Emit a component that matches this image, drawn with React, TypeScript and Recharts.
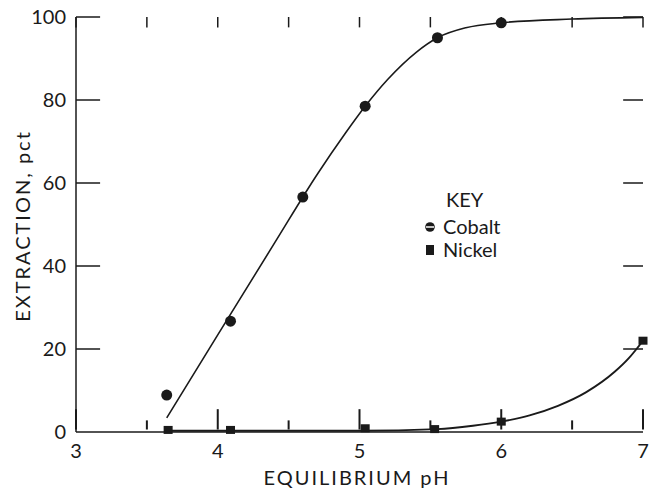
import React from 'react';
import {
  ComposedChart,
  Line,
  Scatter,
  XAxis,
  YAxis,
  Label,
  ReferenceLine,
} from 'recharts';

// measured points
const cobaltPh = [3.64, 4.09, 4.6, 5.04, 5.55, 6.0];
const cobaltPct = [8.9, 26.7, 56.6, 78.5, 95, 98.6];
const nickelPh = [3.65, 4.09, 5.04, 5.53, 6.0, 7.0];
const nickelPct = [0.5, 0.5, 0.9, 0.7, 2.5, 22];

// fitted curves
const cobaltCurvePh = [3.64, 4.0, 4.4, 4.7, 4.9, 5.04, 5.2, 5.4, 5.55, 5.75, 6.0, 6.5, 7.0];
const cobaltCurvePct = [3.4, 23.4, 45.5, 62, 72, 78.5, 85, 91.5, 95, 97.4, 98.6, 99.5, 99.9];
const nickelCurvePh = [3.65, 4.5, 5.0, 5.55, 5.8, 6.0, 6.2, 6.4, 6.6, 6.8, 6.9, 7.0];
const nickelCurvePct = [0.3, 0.3, 0.3, 0.7, 1.5, 2.5, 4.0, 6.3, 9.6, 14.5, 17.8, 22];

const xTicks = [3, 3.5, 4, 4.5, 5, 5.5, 6, 6.5, 7];
const yTicks = [0, 20, 40, 60, 80, 100];

const FONT = 'Lato, "Open Sans", sans-serif';
const INK = '#1a1a1a';

const zip = (xs: number[], ys: number[]) => xs.map((ph, i) => ({ ph, val: ys[i] }));

const XTickText = (props: any) => {
  const { x, y, payload } = props;
  if (!Number.isInteger(payload.value)) return <g />;
  return (
    <text x={x} y={y + 26} textAnchor="middle" fontSize={20} fill={INK} fontFamily={FONT}>
      {payload.value}
    </text>
  );
};

const YTickText = (props: any) => {
  const { x, y, payload } = props;
  return (
    <text x={x} y={y + 7} textAnchor="end" fontSize={20} fill={INK} fontFamily={FONT}>
      {payload.value}
    </text>
  );
};

const Dot = (props: any) => <circle cx={props.cx} cy={props.cy} r={5.5} fill={INK} />;
const Square = (props: any) => (
  <rect x={props.cx - 4.5} y={props.cy - 4} width={9} height={8} fill={INK} />
);

const tickStyle = { stroke: INK, strokeWidth: 1.5 };
const majorLen = 5.5; // data units (~22px)
const minorLen = 2.8;

export default function App() {
  const cobalt = zip(cobaltPh, cobaltPct);
  const nickel = zip(nickelPh, nickelPct);
  const cobaltCurve = zip(cobaltCurvePh, cobaltCurvePct);
  const nickelCurve = zip(nickelCurvePh, nickelCurvePct);

  return (
    <div style={{ position: 'absolute', left: 0, top: 0, width: 650, height: 492, background: '#fff' }}>
      <ComposedChart width={650} height={492} margin={{ top: 17, right: 7, bottom: 0, left: 0 }}>
        <XAxis
          dataKey="ph"
          type="number"
          domain={[3, 7]}
          ticks={xTicks}
          interval={0}
          height={60}
          tickSize={0}
          tickMargin={0}
          tickLine={false}
          tick={<XTickText />}
          axisLine={{ stroke: INK, strokeWidth: 1.5 }}
        >
          <Label
            content={() => (
              <text
                x={357}
                y={485}
                textAnchor="middle"
                fontSize={20}
                letterSpacing={2}
                fill={INK}
                fontFamily={FONT}
              >
                EQUILIBRIUM pH
              </text>
            )}
          />
        </XAxis>
        <XAxis
          xAxisId="top"
          orientation="top"
          dataKey="ph"
          type="number"
          domain={[3, 7]}
          height={0}
          tick={false}
          tickLine={false}
          axisLine={{ stroke: INK, strokeWidth: 1.5 }}
        />
        <YAxis
          type="number"
          domain={[0, 100]}
          ticks={yTicks}
          interval={0}
          width={76}
          tickSize={0}
          tickMargin={10}
          tickLine={false}
          tick={<YTickText />}
          axisLine={{ stroke: INK, strokeWidth: 1.5 }}
        >
          <Label
            content={() => (
              <text
                x={30}
                y={226}
                textAnchor="middle"
                fontSize={20}
                letterSpacing={2}
                fill={INK}
                fontFamily={FONT}
                transform="rotate(-90 30 226)"
              >
                EXTRACTION, pct
              </text>
            )}
          />
        </YAxis>
        <YAxis
          yAxisId="right"
          orientation="right"
          type="number"
          domain={[0, 100]}
          width={0}
          tick={false}
          tickLine={false}
          axisLine={{ stroke: '#444', strokeWidth: 1.5 }}
        />
        {xTicks.map((t) => (
          <ReferenceLine
            key={'bot' + t}
            segment={[
              { x: t, y: Number.isInteger(t) ? majorLen : minorLen },
              { x: t, y: 0.6 },
            ]}
            ifOverflow="visible"
            stroke={INK}
            strokeWidth={2}
          />
        ))}
        {xTicks.map((t) => (
          <ReferenceLine
            key={'top' + t}
            segment={[{ x: t, y: 100 }, { x: t, y: 97.5 }]}
            {...tickStyle}
          />
        ))}
        {yTicks.slice(1).map((t) => (
          <ReferenceLine
            key={'l' + t}
            segment={[{ x: 3, y: t }, { x: 3.17, y: t }]}
            {...tickStyle}
          />
        ))}
        {yTicks.slice(1).map((t) => (
          <ReferenceLine
            key={'r' + t}
            segment={[{ x: 7, y: t }, { x: 6.86, y: t }]}
            {...tickStyle}
          />
        ))}
        <Line
          data={cobaltCurve}
          dataKey="val"
          type="monotone"
          stroke={INK}
          strokeWidth={1.6}
          dot={false}
          isAnimationActive={false}
        />
        <Line
          data={nickelCurve}
          dataKey="val"
          type="monotone"
          stroke={INK}
          strokeWidth={1.9}
          dot={false}
          isAnimationActive={false}
        />
        <Scatter data={cobalt} dataKey="val" shape={<Dot />} isAnimationActive={false} />
        <Scatter data={nickel} dataKey="val" shape={<Square />} isAnimationActive={false} />
      </ComposedChart>
      <div
        style={{
          position: 'absolute',
          left: 423,
          top: 188,
          fontFamily: FONT,
          fontSize: 20,
          color: INK,
          lineHeight: '23px',
        }}
      >
        <div style={{ marginLeft: 23 }}>KEY</div>
        <div style={{ display: 'flex', alignItems: 'center', marginTop: 4 }}>
          <svg width={14} height={12} style={{ marginRight: 6 }}>
            <circle cx={7} cy={6} r={4.8} fill={INK} />
            <line x1={3} y1={6} x2={11} y2={6} stroke="#fff" strokeWidth={1.5} />
          </svg>
          Cobalt
        </div>
        <div style={{ display: 'flex', alignItems: 'center' }}>
          <svg width={14} height={12} style={{ marginRight: 6 }}>
            <rect x={3} y={1} width={8} height={10} fill={INK} />
          </svg>
          Nickel
        </div>
      </div>
    </div>
  );
}
